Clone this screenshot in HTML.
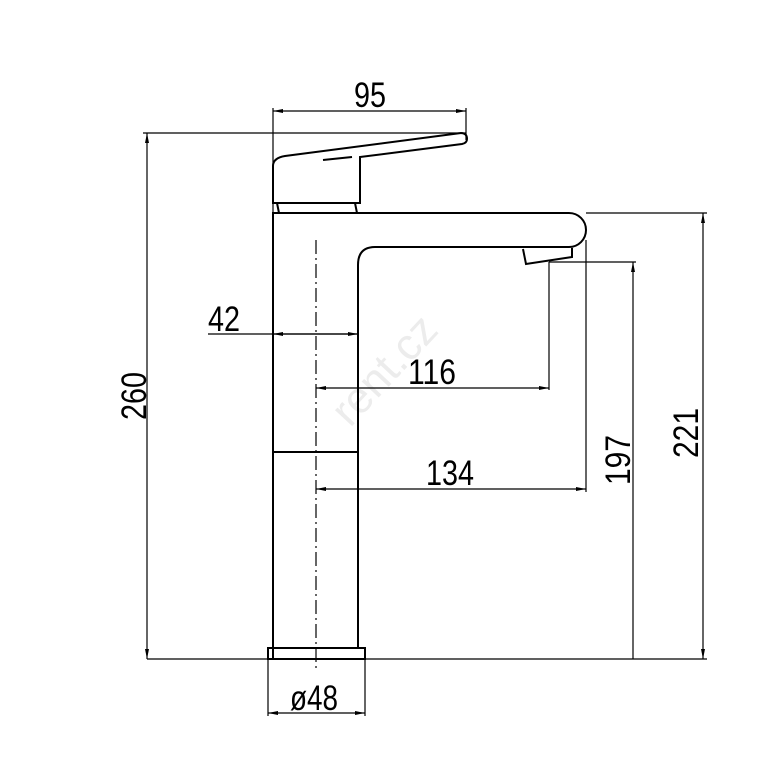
<!DOCTYPE html>
<html><head><style>html,body{margin:0;padding:0;background:#fff}svg{display:block}</style></head>
<body>
<svg width="783" height="766" viewBox="0 0 783 766" xmlns="http://www.w3.org/2000/svg">
<defs>
<marker id="a" viewBox="0 0 10 4" refX="10" refY="2" markerWidth="10" markerHeight="4" orient="auto-start-reverse" markerUnits="userSpaceOnUse"><path d="M0,0 L10,2 L0,4 z" fill="#000"/></marker>
</defs>
<text x="395" y="380" font-family="Liberation Sans, sans-serif" font-size="44" fill="#ececec" transform="rotate(-47 395 380)" text-anchor="middle">rent.cz</text>
<g fill="none" stroke="#000" stroke-width="2">
<path d="M273,203 L273,166 Q273,158 285,156 L461,133 Q467,133 467,139 Q467,143 462,144 L360,157 L360,203 Z"/>
<path d="M323,160 L352,157"/>
<path d="M277,203 L279,213 M355,203 L357,213"/>
<path d="M273,659 L273,213 L569,213 A17,17 0 0 1 569,247 L375,247 Q358,247 358,265 L358,648"/>
<path d="M273,452 L358,452"/>
<path d="M523,249 L526,264 L572,257 L572,248"/>
<rect x="268" y="648" width="97" height="11"/>
</g>
<g fill="none" stroke="#000" stroke-width="1.2">
<path d="M316,240 L316,670" stroke-dasharray="14,4,2,4"/>
<path d="M147,659 L707,659"/>
<path d="M143,133 L466,133"/>
<path d="M273,108 L273,213 M466,108 L466,140"/>
<path d="M586,213 L707,213"/>
<path d="M549,262 L636,262"/>
<path d="M549,262 L549,390"/>
<path d="M586,240 L586,492"/>
<path d="M268,659 L268,716 M365,659 L365,716"/>
<path d="M208,334 L358,334"/>
</g>
<g stroke="#000" stroke-width="1.2" fill="none">
<line x1="273" y1="111" x2="466" y2="111" marker-start="url(#a)" marker-end="url(#a)"/>
<line x1="147" y1="133" x2="147" y2="659" marker-start="url(#a)" marker-end="url(#a)"/>
<line x1="703" y1="213" x2="703" y2="659" marker-start="url(#a)" marker-end="url(#a)"/>
<line x1="633" y1="262" x2="633" y2="659" marker-start="url(#a)"/>
<line x1="273" y1="334" x2="358" y2="334" marker-start="url(#a)" marker-end="url(#a)"/>
<line x1="316" y1="388" x2="549" y2="388" marker-start="url(#a)" marker-end="url(#a)"/>
<line x1="316" y1="489" x2="586" y2="489" marker-start="url(#a)" marker-end="url(#a)"/>
<line x1="268" y1="713" x2="365" y2="713" marker-start="url(#a)" marker-end="url(#a)"/>
</g>
<g font-family="Liberation Sans Narrow, Liberation Sans, sans-serif" font-size="35" fill="#000">
<text x="354" y="107" textLength="32" lengthAdjust="spacingAndGlyphs">95</text>
<text x="208" y="331" textLength="32" lengthAdjust="spacingAndGlyphs">42</text>
<text x="408" y="384" textLength="48" lengthAdjust="spacingAndGlyphs">116</text>
<text x="426" y="485" textLength="48" lengthAdjust="spacingAndGlyphs">134</text>
<text x="290" y="710" textLength="48" lengthAdjust="spacingAndGlyphs">ø48</text>
<text x="0" y="0" transform="translate(146,420) rotate(-90)" textLength="48" lengthAdjust="spacingAndGlyphs">260</text>
<text x="0" y="0" transform="translate(630,485) rotate(-90)" textLength="50" lengthAdjust="spacingAndGlyphs">197</text>
<text x="0" y="0" transform="translate(698,458) rotate(-90)" textLength="50" lengthAdjust="spacingAndGlyphs">221</text>
</g>
</svg>
</body></html>
